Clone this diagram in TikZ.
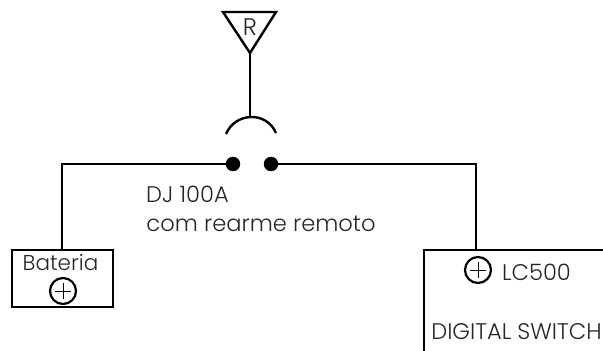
\documentclass[tikz,border=0pt]{standalone}
\usepackage{fontspec}
\setmainfont{Poppins}[UprightFont=* Light]
\usetikzlibrary{positioning}
\tikzset{
	wire/.style={line width=2.4pt,line join=miter},
	contact/.style={circle,fill=black,inner sep=0pt,minimum size=14.5pt},
	pluscircle/.style={circle,draw,line width=2.2pt,inner sep=0pt,minimum size=26pt,
		path picture={\draw[line width=0.7pt] (path picture bounding box.west) ++(5pt,0) -- ++(16pt,0)
			(path picture bounding box.south) ++(0,5pt) -- ++(0,16pt);}},
	label/.style={inner sep=0pt,text=black!85,font=\fontsize{22.6}{26}\selectfont}
}
\begin{document}
\begin{tikzpicture}[x=1pt,y=1pt]
	\useasboundingbox (0,0) rectangle (603,351);

	\coordinate (ant_l) at (223,339);
	\coordinate (ant_r) at (276,339);
	\coordinate (ant_b) at (250,298);
	\coordinate (horn_t) at (250,234);
	\coordinate (horn_l) at (226,217);
	\coordinate (horn_r) at (276,218);
	\coordinate (left_c) at (62,187);
	\coordinate (right_c) at (476,187);
	\coordinate (sw_bl) at (424,0);
	\coordinate (sw_tl) at (424,101);
	\coordinate (sw_tr) at (603,101);
	\coordinate (left_d) at (62,101);
	\coordinate (right_d) at (476,101);

	\node[contact] (k_1) at (233,187) {};
	\node[contact] (k_2) at (271,187) {};
	\node[draw,line width=2.4pt,minimum width=101pt,minimum height=57pt,inner sep=0pt] (bat) at (62.5,72.5) {};
	\node[pluscircle] (bat_plus) at (63,60) {};
	\node[pluscircle] (lc_plus) at (478,81) {};

	\node[label,font=\fontsize{24}{28}\selectfont] (r) at (250,324) {R};
	\node[label,font=\fontsize{21.5}{26}\selectfont] (bat_t) at (60.5,88) {Bateria};
	\node[label] (lc_t) at (536.5,79) {LC500};
	\node[label] (sw_t) at (516.5,19) {DIGITAL SWITCH};
	\node[label] (dj_t) at (187.5,157) {DJ 100A};
	\node[label] (rem_t) at (261,127) {com rearme remoto};

	\draw[wire] (ant_l) -- (ant_r) -- (ant_b) -- cycle;
	\draw[wire] (ant_b) -- (horn_t);
	\draw[wire] (horn_l) .. controls (235.4,239) and (266.6,240) .. (horn_r);
	\draw[wire] (k_1) -- (left_c) -- (left_d);
	\draw[wire] (k_2) -- (right_c) -- (right_d);
	\draw[wire] (sw_bl) -- (sw_tl) -- (sw_tr);
\end{tikzpicture}
\end{document}
